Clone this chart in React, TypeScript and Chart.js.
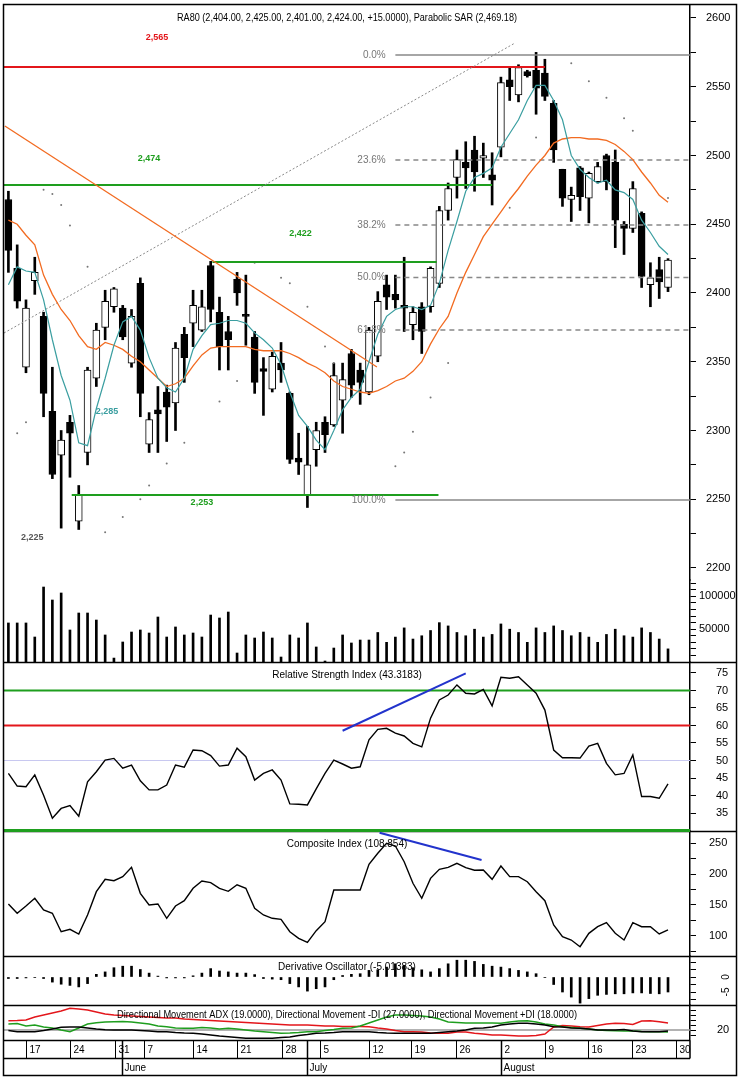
import React, { useEffect, useRef } from 'react';
import { Chart, registerables } from 'chart.js';

Chart.register(...registerables);

const FONT = '"Liberation Sans", Arial, sans-serif';

// ---------------- data (one value per trading day, index 0..75) ----------------
const OPEN = [2468,2418,2346,2409,2383,2314,2282,2306,2234,2284, 2338,2375,2390,2389,2349,2407,2290,2315,2328,2320, 2370,2378,2373,2420,2386,2372,2410,2384,2368,2345, 2330,2349,2327,2280,2253,2286,2306,2304,2322,2356, 2344,2328,2354,2406,2399,2391,2377,2390,2390,2407, 2460,2484,2495,2504,2498,2486,2506,2555,2544,2561, 2562,2560,2538,2490,2468,2491,2469,2481,2500,2495, 2450,2447,2458,2406,2417,2404];
const HIGH = [2474,2435,2395,2426,2386,2346,2300,2311,2260,2346, 2378,2402,2404,2391,2388,2411,2313,2332,2333,2364, 2375,2402,2402,2423,2397,2383,2415,2413,2372,2353, 2357,2364,2328,2298,2303,2306,2310,2349,2349,2359, 2349,2375,2401,2413,2413,2426,2390,2393,2419,2463, 2480,2504,2510,2514,2509,2502,2557,2564,2566,2562, 2575,2570,2540,2490,2477,2492,2488,2495,2501,2504, 2452,2481,2459,2422,2426,2425];
const LOW = [2415,2389,2342,2399,2310,2265,2229,2266,2228,2275, 2332,2366,2386,2366,2346,2310,2284,2284,2292,2300, 2335,2361,2372,2379,2344,2344,2391,2362,2327,2311, 2328,2335,2276,2268,2244,2274,2284,2303,2298,2324, 2319,2326,2350,2388,2389,2372,2366,2356,2386,2404, 2453,2469,2476,2474,2484,2464,2499,2540,2539,2557, 2530,2540,2495,2463,2452,2460,2451,2480,2475,2433, 2428,2444,2404,2390,2396,2401];
const CLOSE = [2431,2394,2389,2415,2327,2268,2293,2298,2253,2344, 2373,2394,2403,2368,2383,2327,2308,2312,2317,2360, 2353,2391,2390,2388,2361,2366,2400,2383,2335,2343, 2354,2344,2279,2277,2275,2300,2297,2340,2337,2333, 2335,2373,2394,2397,2395,2389,2386,2372,2418,2460, 2476,2497,2491,2488,2500,2482,2553,2550,2564,2558, 2549,2543,2504,2469,2471,2470,2487,2492,2481,2453, 2447,2476,2412,2411,2408,2424];
const VOLUME = [59500,59500,59500,38100,114300,94500,105200,48800,74700,74700, 64000,41200,6000,30500,45700,48800,44200,68600,38100,53400, 41200,44200,38100,71600,67100,76200,13700,41200,36600,45700, 36600,7600,41200,36600,59500,22900,1500,21300,41200,29000, 33500,33500,45000,30000,38000,52000,35000,40000,48000,60000, 55000,45000,40000,50000,38000,42000,58000,50000,45000,30000, 52000,45000,55000,48000,40000,45000,38000,30000,42000,50000, 40000,38000,52000,45000,35000,20000];
const MA_FAST = [2406,2419,2416,2415,2395,2366,2340,2322,2291,2289, 2316,2338,2362,2379,2383,2373,2353,2338,2331,2328, 2338,2359,2369,2377,2378,2380,2380,2378,2371,2366, 2360,2348,2328,2311,2303,2293,2286,2300,2315,2324, 2330,2350,2370,2383,2388,2390,2390,2388,2391,2407, 2431,2452,2474,2484,2487,2491,2506,2516,2526,2540, 2551,2551,2540,2526,2500,2490,2484,2480,2482,2475, 2473,2468,2453,2444,2434,2428];
const MA_SLOW = [2453,2450,2442,2435,2413,2399,2388,2380,2369,2361, 2359,2364,2362,2359,2354,2350,2344,2338,2332,2334, 2338,2347,2355,2360,2361,2361,2361,2361,2359,2358, 2358,2358,2356,2353,2349,2346,2342,2336,2332,2330, 2328,2327,2329,2332,2336,2338,2343,2350,2363,2374, 2383,2400,2415,2428,2441,2450,2459,2468,2476,2485, 2493,2500,2509,2512,2513,2513,2512,2512,2511,2508, 2503,2497,2488,2480,2471,2466];
const SAR = [null,2298,2306,null,2475,2472,2464,2449,null,2419, null,2226,null,2237,null,2250,2260,null,2276,null, 2291,null,null,null,2321,null,2336,null,2422,null, null,2411,2407,null,2390,null,2361,2349,null,null, null,null,null,null,2274,2284,2299,null,2324,null, 2349,null,null,null,null,null,null,2462,null,null, 2513,null,null,null,2567,null,2554,null,2542,null, 2527,2518,null,null,null,2469];
const RSI = [46.3,42.7,42.5,45.9,40.1,33.5,36.3,37.1,34.1,43.9, 46.8,50.1,50.6,47.8,48.7,44.2,41.6,41.6,43.0,48.7, 48.1,53.0,52.8,51.4,48.4,48.7,53.5,51.1,44.4,46.3, 47.3,44.4,37.6,37.5,37.3,41.9,46.3,50.1,49.0,47.8, 48.2,55.9,58.9,59.2,57.8,57.0,54.9,53.9,62.1,67.3, 68.7,71.6,69.2,69.0,70.3,65.6,73.8,73.5,73.9,71.6, 69.2,64.4,53.0,50.8,50.8,50.7,54.1,54.9,49.2,45.9, 46.3,51.6,39.7,39.7,39.2,43.3];
const CI = [151.6,136.6,148.4,160.8,141.9,136.6,106.9,110.8,103.2,133.9, 171.5,191.4,189.2,195.7,210.8,168.8,150.0,151.6,128.5,148.4, 156.9,176.9,188.7,186.0,176.9,172.1,182.7,176.9,144.5,133.9, 128.5,126.9,106.9,96.2,89.8,108.6,123.1,174.2,174.2,174.2, 174.2,215.6,233.4,249.5,245.2,219.8,185.0,160.8,193.0,207.5, 210.8,217.2,210.2,206.0,206.5,191.4,212.9,195.7,195.7,187.6, 171.5,156.9,117.7,98.9,93.5,82.7,104.3,115.0,121.5,104.3, 93.5,121.5,115.0,115.0,103.2,109.7];
const DERIV = [-0.5,-0.5,-0.3,-0.2,-0.5,-1.7,-2.4,-2.8,-3.3,-2.2, 0.9,1.7,3.1,3.6,3.6,2.5,1.3,0.3,-0.3,-0.3, -0.3,0.4,1.3,2.8,2.0,1.7,1.3,1.3,0.8,-0.5, -0.7,-0.9,-2.2,-3.3,-4.7,-3.9,-3.3,-0.9,0.5,0.9, 1.1,2.2,2.4,3.3,4.4,3.9,3.1,2.4,1.7,2.8, 4.4,5.6,5.6,5.2,4.2,3.6,3.3,2.8,2.2,1.7, 1.1,-0.2,-2.5,-5.0,-6.7,-8.7,-7.2,-6.1,-5.8,-5.6, -5.6,-5.3,-5.3,-5.5,-5.6,-5.0];
const DI_MINUS = [29.3,29.5,30,33,35,37,39,41.7,41,40, 38,36,35,34.5,34,33.5,33,32.5,32,32, 31,30.5,30,29.5,29,28.5,28,27.5,27,26.5, 26,25.5,25,25,25,24.5,24,24,23.5,23.5, 23.5,23.3,22,21,19.5,18.3,18.3,18,17,16.7, 16.7,18,18,16.7,16,15,15,14.5,14,14, 14.5,16,23,24.5,24,23.3,23,24.5,26,26.7, 26.5,25.5,29,29.3,28.3,27];
const DI_PLUS = [26,26.5,24,25,23,22,20,18.3,22,26, 27.3,28,28.3,28.5,28,27,26,24,23.3,22, 21.7,21.7,22.5,22,21,21.7,21,20,19,18.3, 17.5,16.7,17,17.5,18.3,18.3,19.5,20.5,21.7,22, 24,27,30,33,35,35,34.5,34,33,31, 28,27.5,27,27,27,27,26.7,28,29,29.3, 28,26,25,23.3,22.5,21.7,21,20,19.5,19.3, 19,19,18.5,18.3,18.3,18];
const ADX = [19.5,18.3,18.3,18.3,19.5,21,22.7,23,23,22, 21,20.3,20,20,20,19.5,19,18.3,18.3,17.5, 17,16.7,16,15,14,13.3,12.5,11.7,11.7,11.7, 11.7,12.5,13,14.5,15.5,16.7,17,17.5,18.3,18.3, 18.3,18.3,17.5,17,16.7,16.7,16.7,16.7,16.7,17.5, 18.3,19,20,21.7,22,23,25,26,26.7,26.7, 26,25,23.3,23,22,21.7,21,20,20,20, 20.5,19,18.3,18.3,18.3,19];

// trend / level lines: [xIndex, value]
const TREND_DOWN = [[-0.4, 2521.5], [41.9, 2346.2]];
const TREND_UP = [[-0.5, 2370.9], [57.6, 2581.8]];
const LEVEL_RED = { value: 2564.4, from: -0.5, to: 61.0 };
const LEVEL_GREEN = [
  { value: 2478.5, from: -0.5, to: 55.0 },
  { value: 2422.5, from: 23.2, to: 48.7 },
  { value: 2253.1, from: 7.2, to: 48.9 },
];
const FIB_HIGH = 2573;
const FIB_LOW = 2249.5;
const FIB_LEVELS = [0, 23.6, 38.2, 50.0, 61.8, 100.0];
const FIB_FROM = 44;
const RSI_TREND = [[38.0, 58.5], [52.0, 74.9]];
const CI_TREND = [[42.2, 266.6], [53.8, 222.6]];

// tick labels
const PRICE_TICKS = [2200, 2225, 2250, 2275, 2300, 2325, 2350, 2375, 2400, 2425, 2450, 2475, 2500, 2525, 2550, 2575, 2600];
const VOLUME_TICKS = [10000, 20000, 30000, 40000, 50000, 60000, 70000, 80000, 90000, 100000, 110000, 120000];
const RSI_TICKS = [35, 40, 45, 50, 55, 60, 65, 70, 75];
const CI_TICKS = [75, 100, 125, 150, 175, 200, 225, 250];
const DO_TICKS = [-7.5, -5, -2.5, 0, 2.5, 5];
const DMI_TICKS = [15, 20, 25, 30, 35, 40];
const DAY_TICK_POS = [2, 7, 12.1, 15.4, 21, 26, 31.1, 35.4, 41, 45.8, 50.9, 56, 61, 65.9, 70.9, 75.9];
const DAY_TICK_LABEL = ['17', '24', '31', '7', '14', '21', '28', '5', '12', '19', '26', '2', '9', '16', '23', '30'];
const MONTH_POS = [12.9, 34.0, 56.0];
const MONTH_LABEL = ['June', 'July', 'August'];

const TITLE_PRICE = 'RA80 (2,404.00, 2,425.00, 2,401.00, 2,424.00, +15.0000), Parabolic SAR (2,469.18)';
const TITLE_RSI = 'Relative Strength Index (43.3183)';
const TITLE_CI = 'Composite Index (108.854)';
const TITLE_DO = 'Derivative Oscillator (-5.01383)';
const TITLE_DMI = 'Directional Movement ADX (19.0000), Directional Movement -DI (27.0000), Directional Movement +DI (18.0000)';

const LEVEL_TEXT = [
  { text: '2,565', x: 16.9, y: 2586, color: '#e3161b' },
  { text: '2,474', x: 16.0, y: 2498, color: '#1e9e1e' },
  { text: '2,422', x: 33.2, y: 2443.6, color: '#1e9e1e' },
  { text: '2,253', x: 22.0, y: 2247.3, color: '#1e9e1e' },
  { text: '2,225', x: 2.7, y: 2222.5, color: '#555' },
  { text: '2,285', x: 11.2, y: 2313.5, color: '#3a9ea0' },
];

const TEAL = '#3a9ea0';
const ORANGE = '#f26b21';
const GREEN = '#1e9e1e';
const RED = '#e3161b';
const BLUE = '#2233cc';

const pts = (arr: (number | null)[]) => arr.map((v, i) => ({ x: i, y: v }));
const seg = (a: number[][]) => a.map(([x, y]) => ({ x, y }));
const hline = (v: number, from = -0.5, to = 77.5) => [{ x: from, y: v }, { x: to, y: v }];

function yAxis(weight: number, min: number, max: number, ticks: number[], label: (v: number) => string, pad: number) {
  return {
    type: 'linear',
    position: 'right',
    stack: 'panels',
    stackWeight: weight,
    min,
    max,
    offset: false,
    afterBuildTicks: (s: any) => { s.ticks = ticks.map((v) => ({ value: v })); },
    afterFit: (s: any) => { s.width = 47; s.paddingTop = 0; s.paddingBottom = 0; },
    grid: { drawOnChartArea: false, drawTicks: true, tickLength: 6, tickColor: '#000', tickWidth: 1 },
    border: { display: true, color: '#000', width: 1.5 },
    ticks: {
      autoSkip: false,
      callback: (v: any) => label(Number(v)),
      color: '#000',
      font: { family: FONT, size: 11 },
      padding: pad,
      crossAlign: 'near',
    },
  };
}

function text(ctx: CanvasRenderingContext2D, s: string, x: number, y: number, o: any = {}) {
  ctx.save();
  ctx.font = `${o.bold ? 'bold ' : ''}${o.size || 10}px ${FONT}`;
  ctx.fillStyle = o.color || '#000';
  ctx.textAlign = o.align || 'center';
  ctx.textBaseline = 'middle';
  if (o.maxWidth) ctx.fillText(s, x, y, o.maxWidth);
  else ctx.fillText(s, x, y);
  ctx.restore();
}

const decorPlugin = {
  id: 'decor',
  beforeDatasetsDraw(chart: any) {
    const ctx: CanvasRenderingContext2D = chart.ctx;
    const s = chart.scales;
    ctx.save();
    ctx.strokeStyle = '#000';
    ctx.lineWidth = 1.5;
    [s.yV.bottom, s.yR.bottom, s.yC.bottom, s.yD.bottom].forEach((y: number) => {
      ctx.beginPath();
      ctx.moveTo(3, Math.round(y) + 0.5);
      ctx.lineTo(737, Math.round(y) + 0.5);
      ctx.stroke();
    });
    ctx.restore();
  },
  afterDraw(chart: any) {
    const ctx: CanvasRenderingContext2D = chart.ctx;
    const s = chart.scales;
    const xs = s.x;
    const area = chart.chartArea;
    const cx = (area.left + area.right) / 2;

    // fib labels
    FIB_LEVELS.forEach((l) => {
      const v = FIB_HIGH - (FIB_HIGH - FIB_LOW) * l / 100;
      text(ctx, `${l.toFixed(1)}%`, xs.getPixelForValue(42.9), s.yP.getPixelForValue(v), { color: '#777', align: 'right', size: 10 });
    });
    // level labels
    LEVEL_TEXT.forEach((t) => {
      text(ctx, t.text, xs.getPixelForValue(t.x), s.yP.getPixelForValue(t.y), { color: t.color, size: 9, bold: true });
    });

    // titles
    text(ctx, TITLE_PRICE, cx, s.yP.top + 13, { size: 10, maxWidth: 340 });
    text(ctx, TITLE_RSI, cx, s.yR.top + 13, { size: 10, maxWidth: 150 });
    text(ctx, TITLE_CI, cx, s.yC.top + 13, { size: 10, maxWidth: 122 });
    text(ctx, TITLE_DO, cx, s.yD.top + 11, { size: 10, maxWidth: 138 });
    text(ctx, TITLE_DMI, cx, s.yM.top + 10, { size: 10, maxWidth: 460 });

    // rotated derivative oscillator labels
    [0, -5].forEach((v) => {
      ctx.save();
      ctx.translate(726, s.yD.getPixelForValue(v));
      ctx.rotate(-Math.PI / 2);
      text(ctx, String(v), 0, 0, { size: 10 });
      ctx.restore();
    });

    // date axis
    const top = Math.round(area.bottom) + 0.5;
    const mid = top + 18;
    const bottom = 1075.5;
    ctx.save();
    ctx.strokeStyle = '#000';
    ctx.lineWidth = 1.5;
    ctx.beginPath();
    ctx.moveTo(3, top); ctx.lineTo(area.right, top);
    ctx.moveTo(3, mid); ctx.lineTo(area.right, mid);
    ctx.moveTo(area.right, top); ctx.lineTo(area.right, mid);
    ctx.stroke();
    ctx.lineWidth = 1;
    DAY_TICK_POS.forEach((p, i) => {
      const x = Math.round(xs.getPixelForValue(p)) + 0.5;
      ctx.beginPath(); ctx.moveTo(x, top); ctx.lineTo(x, mid); ctx.stroke();
      text(ctx, DAY_TICK_LABEL[i], x + 3, (top + mid) / 2 + 1, { align: 'left', size: 10 });
    });
    ctx.lineWidth = 1.5;
    MONTH_POS.forEach((p, i) => {
      const x = Math.round(xs.getPixelForValue(p)) + 0.5;
      ctx.beginPath(); ctx.moveTo(x, top); ctx.lineTo(x, bottom); ctx.stroke();
      text(ctx, MONTH_LABEL[i], x + 2, (mid + bottom) / 2 + 1, { align: 'left', size: 10 });
    });
    // outer frame
    ctx.lineWidth = 1.5;
    ctx.strokeRect(3.5, 4.5, 733, 1071);
    ctx.restore();
  },
};

function buildConfig(): any {
  const bodyColors = OPEN.map((o, i) => (CLOSE[i] >= o ? '#ffffff' : '#000000'));
  const fibSets = FIB_LEVELS.map((l) => {
    const v = FIB_HIGH - (FIB_HIGH - FIB_LOW) * l / 100;
    const solid = l === 0 || l === 100;
    return {
      type: 'line', yAxisID: 'yP', data: hline(v, FIB_FROM, 77.5), borderColor: '#888',
      borderWidth: 1.5, borderDash: solid ? [] : [5, 4], pointRadius: 0, order: 3,
    };
  });
  return {
    type: 'bar',
    data: {
      datasets: [
        // price panel lines
        { type: 'line', yAxisID: 'yP', data: pts(MA_FAST), borderColor: TEAL, borderWidth: 1.2, pointRadius: 0, order: 1 },
        { type: 'line', yAxisID: 'yP', data: pts(MA_SLOW), borderColor: ORANGE, borderWidth: 1.3, pointRadius: 0, order: 1 },
        { type: 'line', yAxisID: 'yP', data: seg(TREND_DOWN), borderColor: ORANGE, borderWidth: 1.3, pointRadius: 0, order: 2 },
        { type: 'line', yAxisID: 'yP', data: seg(TREND_UP), borderColor: '#888', borderWidth: 1, borderDash: [2, 2], pointRadius: 0, order: 2 },
        { type: 'line', yAxisID: 'yP', data: hline(LEVEL_RED.value, LEVEL_RED.from, LEVEL_RED.to), borderColor: RED, borderWidth: 2, pointRadius: 0, order: 2 },
        ...LEVEL_GREEN.map((g) => ({ type: 'line', yAxisID: 'yP', data: hline(g.value, g.from, g.to), borderColor: GREEN, borderWidth: 2, pointRadius: 0, order: 2 })),
        ...fibSets,
        { type: 'line', yAxisID: 'yP', data: pts(SAR), showLine: false, pointRadius: 1, pointBorderWidth: 0, pointBackgroundColor: '#777', order: 2 },
        // candles
        { type: 'bar', yAxisID: 'yP', data: OPEN.map((o, i) => ({ x: i, y: [o, CLOSE[i]] })), backgroundColor: bodyColors, borderColor: '#000', borderWidth: 1, borderSkipped: false, barThickness: 7, minBarLength: 2, grouped: false, order: 5 },
        { type: 'bar', yAxisID: 'yP', data: LOW.map((l, i) => ({ x: i, y: [l, HIGH[i]] })), backgroundColor: '#000', borderWidth: 0, barThickness: 2, grouped: false, order: 6 },
        // volume
        { type: 'bar', yAxisID: 'yV', data: pts(VOLUME), backgroundColor: '#000', barThickness: 2, grouped: false, order: 6 },
        // RSI
        { type: 'line', yAxisID: 'yR', data: hline(70), borderColor: GREEN, borderWidth: 2, pointRadius: 0, order: 4 },
        { type: 'line', yAxisID: 'yR', data: hline(60), borderColor: RED, borderWidth: 2, pointRadius: 0, order: 4 },
        { type: 'line', yAxisID: 'yR', data: hline(50), borderColor: '#c8c8f0', borderWidth: 1, pointRadius: 0, order: 4 },
        { type: 'line', yAxisID: 'yR', data: hline(30), borderColor: GREEN, borderWidth: 3, pointRadius: 0, order: 4, clip: 3 },
        { type: 'line', yAxisID: 'yR', data: pts(RSI), borderColor: '#000', borderWidth: 1.4, pointRadius: 0, order: 1 },
        { type: 'line', yAxisID: 'yR', data: seg(RSI_TREND), borderColor: BLUE, borderWidth: 2, pointRadius: 0, order: 1 },
        // composite index
        { type: 'line', yAxisID: 'yC', data: pts(CI), borderColor: '#000', borderWidth: 1.4, pointRadius: 0, order: 1 },
        { type: 'line', yAxisID: 'yC', data: seg(CI_TREND), borderColor: BLUE, borderWidth: 2, pointRadius: 0, order: 1 },
        // derivative oscillator
        { type: 'bar', yAxisID: 'yD', data: pts(DERIV), backgroundColor: '#000', barThickness: 2, grouped: false, order: 6 },
        // DMI
        { type: 'line', yAxisID: 'yM', data: hline(20), borderColor: '#999', borderWidth: 1.5, pointRadius: 0, order: 4 },
        { type: 'line', yAxisID: 'yM', data: pts(ADX), borderColor: '#000', borderWidth: 1.4, pointRadius: 0, order: 1 },
        { type: 'line', yAxisID: 'yM', data: pts(DI_PLUS), borderColor: GREEN, borderWidth: 1.4, pointRadius: 0, order: 1 },
        { type: 'line', yAxisID: 'yM', data: pts(DI_MINUS), borderColor: RED, borderWidth: 1.4, pointRadius: 0, order: 1 },
      ],
    },
    options: {
      responsive: false,
      animation: false,
      events: [],
      layout: { padding: { left: 4, top: 5, right: 2, bottom: 38 } },
      plugins: { legend: { display: false }, tooltip: { enabled: false }, title: { display: false } },
      scales: {
        x: { type: 'linear', min: -0.5, max: 77.5, offset: false, display: false, grid: { display: false }, ticks: { display: false } },
        yP: yAxis(575, 2191.27, 2609.45, PRICE_TICKS, (v) => (v % 50 === 0 ? String(v) : ''), 10),
        yV: yAxis(82, 0, 125000, VOLUME_TICKS, (v) => (v === 50000 || v === 100000 ? String(v) : ''), 3),
        yR: yAxis(169, 29.86, 78.14, RSI_TICKS, (v) => String(v), 20),
        yC: yAxis(125, 67.7, 269.4, CI_TICKS, (v) => (v % 50 === 0 ? String(v) : ''), 13),
        yD: yAxis(49, -9.33, 7, DO_TICKS, () => '', 10),
        yM: yAxis(35, 10, 45, DMI_TICKS, (v) => (v === 20 ? '20' : ''), 21),
      },
    },
    plugins: [decorPlugin],
  };
}

export default function App() {
  const ref = useRef<HTMLCanvasElement>(null);
  useEffect(() => {
    const canvas = ref.current;
    if (!canvas) return;
    const chart = new Chart(canvas, buildConfig());
    return () => chart.destroy();
  }, []);
  return (
    <div style={{ position: 'absolute', left: 0, top: 0, width: 739, height: 1078, background: '#fff' }}>
      <canvas ref={ref} width={739} height={1078} style={{ display: 'block', width: 739, height: 1078 }} />
    </div>
  );
}
